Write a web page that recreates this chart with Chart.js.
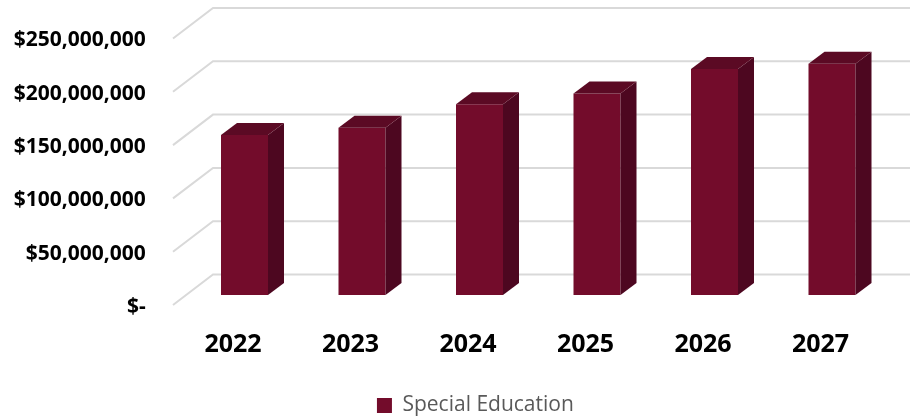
<!DOCTYPE html>
<html>
<head>
<meta charset="utf-8">
<script src="https://cdn.jsdelivr.net/npm/chart.js@4"></script>
<style>
  html, body { margin: 0; padding: 0; background: #fff; }
  #wrap { width: 910px; height: 417px; position: relative; }
</style>
</head>
<body>
<div id="wrap"><canvas id="chart"></canvas></div>
<script>
// Dados do gráfico
var years = ['2022', '2023', '2024', '2025', '2026', '2027'];
var specialEducation = [150000000, 157000000, 179000000, 189000000, 212000000, 217000000];
var yTickLabels = ['$-', '$50,000,000', '$100,000,000', '$150,000,000', '$200,000,000', '$250,000,000'];

var frontColor = '#730c2b';
var sideColor = '#4d0720';
var topColor = '#5b0a24';

// profundidade do "3D"
var barDepth = { dx: 16, dy: -12 };
var wallDepth = { front: { dx: -12.75, dy: 10 }, back: { dx: 27.25, dy: -20.5 } };
var legendShift = 30;

// Linhas de grade em perspectiva (parede do fundo + diagonal)
var gridPlugin = {
  id: 'grid3d',
  afterLayout: function(chart) {
    // desloca a legenda um pouco para a direita, como no original
    chart.legend.left += legendShift;
    chart.legend.right += legendShift;
  },
  beforeDatasetsDraw: function(chart) {
    var ctx = chart.ctx;
    var y = chart.scales.y;
    var left = chart.chartArea.left;
    ctx.save();
    ctx.strokeStyle = '#d9d9d9';
    ctx.lineWidth = 2;
    y.ticks.forEach(function(t) {
      var py = y.getPixelForValue(t.value);
      ctx.beginPath();
      ctx.moveTo(left + wallDepth.front.dx, py + wallDepth.front.dy);
      ctx.lineTo(left + wallDepth.back.dx, py + wallDepth.back.dy);
      ctx.lineTo(chart.width, py + wallDepth.back.dy);
      ctx.stroke();
    });
    ctx.restore();
  }
};

// Faces laterais e topo das barras
var barsPlugin = {
  id: 'bars3d',
  afterDatasetsDraw: function(chart) {
    var ctx = chart.ctx;
    ctx.save();
    chart.getDatasetMeta(0).data.forEach(function(bar) {
      var l = bar.x - bar.width / 2;
      var r = bar.x + bar.width / 2;
      var top = bar.y;
      var base = bar.base;
      // lateral
      ctx.fillStyle = sideColor;
      ctx.beginPath();
      ctx.moveTo(r, top);
      ctx.lineTo(r + barDepth.dx, top + barDepth.dy);
      ctx.lineTo(r + barDepth.dx, base + barDepth.dy);
      ctx.lineTo(r, base);
      ctx.closePath();
      ctx.fill();
      // topo
      ctx.fillStyle = topColor;
      ctx.beginPath();
      ctx.moveTo(l, top);
      ctx.lineTo(l + barDepth.dx, top + barDepth.dy);
      ctx.lineTo(r + barDepth.dx, top + barDepth.dy);
      ctx.lineTo(r, top);
      ctx.closePath();
      ctx.fill();
    });
    ctx.restore();
  }
};

var ctx = document.getElementById('chart').getContext('2d');
var chart = new Chart(ctx, {
  type: 'bar',
  data: {
    labels: years,
    datasets: [{
      label: 'Special Education',
      data: specialEducation,
      backgroundColor: frontColor,
      borderWidth: 0,
      barPercentage: 0.4,
      categoryPercentage: 1
    }]
  },
  options: {
    responsive: true,
    maintainAspectRatio: false,
    animation: false,
    layout: {
      padding: { top: 28.5, right: 19.25, left: 0, bottom: -9 }
    },
    plugins: {
      legend: {
        position: 'bottom',
        labels: {
          boxWidth: 15,
          boxHeight: 15,
          padding: 10,
          color: '#595959',
          font: { family: 'Open Sans', size: 21 }
        }
      },
      tooltip: { enabled: false }
    },
    scales: {
      x: {
        grid: { display: false, drawTicks: false },
        border: { display: false },
        ticks: {
          color: '#000',
          padding: 35,
          labelOffset: -11.5,
          font: { family: 'Open Sans', size: 25, weight: 'bold' }
        },
        afterFit: function(scale) {
          scale.height = 90;
          scale.paddingLeft = 0;
          scale.paddingRight = 0;
        }
      },
      y: {
        min: 0,
        max: 250000000,
        grid: { display: false, drawTicks: false },
        border: { display: false },
        ticks: {
          stepSize: 50000000,
          color: '#000',
          padding: 40,
          labelOffset: 12,
          font: { family: 'Open Sans', size: 21, weight: 'bold' },
          callback: function(value, index) { return yTickLabels[index]; }
        },
        afterFit: function(scale) {
          scale.width = 185.75;
          scale.paddingTop = 0;
          scale.paddingBottom = 0;
        }
      }
    }
  },
  plugins: [gridPlugin, barsPlugin]
});
</script>
</body>
</html>
